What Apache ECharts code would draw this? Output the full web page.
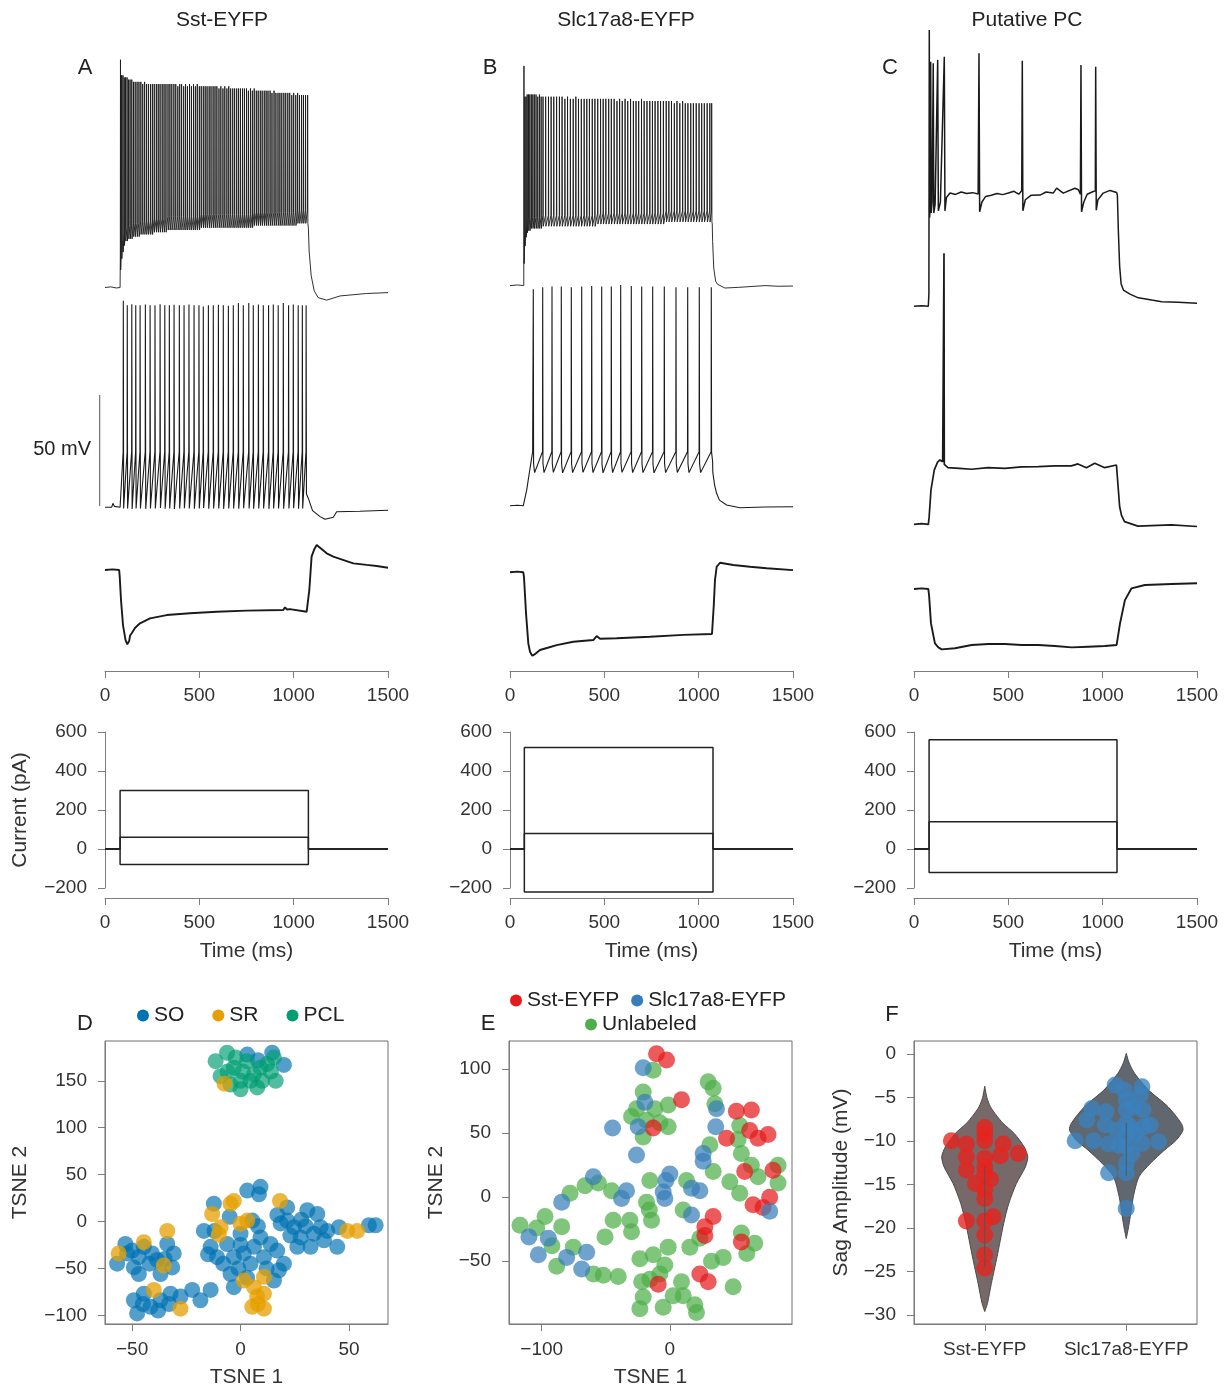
<!DOCTYPE html>
<html><head><meta charset="utf-8">
<script src="https://cdn.jsdelivr.net/npm/echarts@6/dist/echarts.min.js"></script>
<style>html,body{margin:0;padding:0;background:#fff}#c{width:1228px;height:1389px}</style>
</head><body><div id="c"></div>
<script>
// ================= DATA =================
const columnTitles = ['Sst-EYFP', 'Slc17a8-EYFP', 'Putative PC'];
const panelLetters = ['A', 'B', 'C', 'D', 'E', 'F'];
const timeTicks = [0, 500, 1000, 1500];
const tsneDxTicks = [-50, 0, 50];
const tsneDyTicks = [-100, -50, 0, 50, 100, 150];
const tsneExTicks = [-100, 0];
const tsneEyTicks = [-50, 0, 50, 100];
const sagTicks = [-30, -25, -20, -15, -10, -5, 0];
const sagCategories = ['Sst-EYFP', 'Slc17a8-EYFP'];
const legendD = ['SO', 'SR', 'PCL'];
const legendE = ['Sst-EYFP', 'Slc17a8-EYFP', 'Unlabeled'];

// injected current steps (ms, pA)
const stepTimesA = [80, 1078], stepAmpsA = [300, 60, -80];
const stepTimesB = [76, 1076], stepAmpsB = [520, 80, -220];
const stepTimesC = [80, 1076], stepAmpsC = [560, 140, -120];

// voltage traces: [time ms, deflection from rest mV]; spikes: [time, peak, after-hyperpolarisation]
const a1Pre = [[0,0],[30,0.3],[60,-0.2],[80,0]];
const a1Spikes = [[82,103,8],[88,96,13],[95,96,16],[102,95,19],[109,95,21],[117,95,21],[125,94,22],[133,94,22],[142,94,22],[151,93,23],[160,93,23],[170,93,23],[180,93,23],[190,93,24],[200,92,24],[210,93,24],[220,92,24],[230,92,24],[241,92,24],[251,92,24],[261,92,25],[272,92,25],[282,92,25],[292,92,25],[303,92,25],[313,92,25],[323,92,25],[334,92,26],[344,92,26],[354,92,26],[365,92,26],[375,92,26],[386,91,26],[396,92,26],[406,92,26],[417,91,26],[427,92,26],[437,91,26],[448,92,26],[458,91,26],[469,92,26],[479,91,26],[489,92,26],[500,91,26],[510,91,27],[521,91,27],[531,91,27],[541,91,27],[552,91,27],[562,91,27],[573,91,27],[583,91,27],[593,91,27],[604,90,27],[614,91,27],[625,90,27],[635,91,27],[646,90,27],[656,91,27],[666,90,27],[677,90,27],[687,90,27],[698,90,27],[708,90,27],[718,90,27],[729,90,27],[739,90,27],[750,90,27],[760,89,27],[771,90,27],[781,89,27],[791,90,28],[802,89,28],[812,89,28],[823,89,28],[833,89,28],[844,89,28],[854,89,28],[864,89,28],[875,89,28],[885,88,28],[896,89,28],[906,88,28],[917,88,28],[927,88,28],[937,88,28],[948,88,28],[958,88,28],[969,88,28],[979,88,28],[990,87,28],[1000,88,28],[1011,87,28],[1021,88,29],[1031,87,29],[1042,87,29],[1052,87,29],[1063,87,29],[1074,87,29]];
const a1Post = [[1078,27],[1082,16.5],[1093,5.3],[1109,-1.5],[1130,-4.6],[1175,-5.7],[1246,-3.8],[1387,-2.7],[1500,-2.3]];

const a2Pre = [[0,0],[35,0],[42,1.8],[50,0.4],[80,0]];
const a2Spikes = [[97,93,-0.5],[118,91,-0.5],[142,91.5,-0.8],[163,91,-0.5],[186,91,-0.5],[214,91.3,-0.7],[239,91,-0.5],[265,91,-0.5],[292,91.5,-0.3],[317,91,-0.6],[341,91,-0.5],[366,91.2,-0.8],[394,91,-0.5],[419,91,-0.4],[445,91.4,-0.5],[472,91,-0.6],[498,91,-0.5],[521,90.5,-0.3],[548,91,-0.6],[574,91,-0.5],[601,91.2,-0.5],[627,91,-0.7],[654,90.8,-0.5],[680,91,-0.5],[707,92,-0.6],[733,91,-0.4],[762,92,-0.5],[786,91,-0.6],[813,91.3,-0.5],[839,91,-0.5],[867,91,-0.7],[892,91.4,-0.5],[918,91,-0.5],[945,92,-0.6],[973,91,-0.5],[998,91.3,-0.4],[1024,91,-0.6],[1046,91,-0.5],[1066,91,6]];
const a2Post = [[1078,4],[1090,1],[1100,-1.5],[1140,-4.2],[1166,-5.4],[1210,-4.5],[1228,-2],[1350,-1.8],[1500,-1.3]];

const a3Trace = [[0,0],[40,0.3],[75,0],[78,-3],[84.8,-13.5],[95.4,-24.8],[108.7,-31.5],[118,-33.5],[123.5,-33.8],[128,-32],[133,-29.5],[141.5,-28.5],[160,-26],[185.5,-24],[238.5,-21.8],[327,-20.3],[450,-19.5],[592,-18.8],[751,-18.3],[945,-18],[954,-16.8],[965,-17.8],[980,-17.6],[1069,-18.8],[1077,-18.5],[1083,-9],[1095,6],[1110,9.5],[1122,11.3],[1130,10.5],[1175,7.5],[1210,6],[1316,3],[1387,2.3],[1440,1.8],[1500,1]];

const b1Pre = [[0,0],[40,0.3],[73,0]];
const b1Spikes = [[74,100,10],[79,86,18],[85,86,22],[91,87,24],[98,87,25],[105,87,25],[113,87,26],[121,87,26],[129,87,26],[138,87,26],[147,86,26],[156,87,26],[165,86,26],[175,86,27],[189,86,27],[204,86,27],[218,86,27],[232,86,27],[247,86,27],[262,86,27],[276,86,27],[291,85,27],[305,86,27],[320,85,27],[335,85,27],[349,86,27],[363,85,27],[378,85,27],[393,85,27],[407,85,27],[421,85,27],[436,85,27],[450,85,27],[465,85,28],[480,85,28],[494,85,28],[508,85,28],[523,85,28],[537,85,28],[552,85,28],[567,84,28],[581,85,28],[595,84,28],[610,85,28],[624,84,28],[639,85,28],[654,84,28],[668,84,28],[682,84,28],[697,85,28],[711,84,28],[726,84,28],[741,84,28],[755,84,28],[769,84,28],[784,84,28],[798,84,28],[813,84,28],[828,84,29],[842,84,29],[856,84,29],[871,83,29],[885,84,29],[900,83,29],[915,84,29],[929,83,29],[943,83,29],[958,83,29],[972,83,29],[987,83,29],[1002,83,29],[1016,83,29],[1030,83,29],[1045,83,29],[1059,83,29],[1069,83,29]];
const b1Post = [[1072,28],[1074,20],[1080,8],[1090,2],[1100,0.6],[1139,-1.1],[1210,-0.8],[1352,0],[1420,-0.3],[1500,-0.2]];

const b2Pre = [[0,0],[40,0.2],[70.5,0],[78,3],[88.5,7],[102,14.6],[112,20],[120,24.3]];
const b2Spikes = [[123.5,97.5,14.9],[173.3,98.4,14.9],[222.6,98.7,15],[271.9,98.7,14.8],[324.9,98.4,14.9],[380,98.7,15],[433,99,14.9],[486,98.7,14.8],[536.9,98.7,14.9],[586.7,99.4,15],[642.9,99,14.9],[698,98.7,14.9],[756.3,98.7,14.8],[817.8,98.7,14.9],[879.8,98.4,15],[941.8,98.4,14.9],[1003.3,98.4,14.9],[1066.9,98.4,20]];
const b2Post = [[1075,15],[1085,9],[1095,5.6],[1110,2.5],[1148,0.3],[1219,-0.9],[1350,-0.6],[1500,-0.5]];

const b3Trace = [[0,0],[40,0.3],[70.5,0],[74,-2],[85,-18.5],[97,-32],[106,-35.8],[118,-37.6],[130,-37],[159,-35],[200,-34],[247.5,-32.8],[335.5,-31.3],[441.5,-30.5],[459.5,-28.7],[477,-29.9],[565.5,-29.7],[742,-29],[918.5,-28.2],[1070.6,-27.8],[1074,-27],[1080,-15],[1086.5,-3.5],[1095.5,2.5],[1113,4.3],[1183.5,3.3],[1272,2.5],[1360.5,1.8],[1500,1]];

const c1Trace = [[0,0],[40,0.3],[76,0],[79,6],[81,124.5],[83,40],[85,45],[88.5,110.2],[91,42],[96,47],[102,109.5],[105,42],[112,46],[125.6,111],[129,43],[140,47],[150,46.5],[160.6,112.4],[164,43],[172,49],[191,51],[220,50.4],[250,51.5],[279,50.8],[310,51.2],[340,50.6],[344.5,114],[348,42.6],[360,47],[380,49.5],[410,50],[440,50.8],[470,50.3],[500,51],[530,51.8],[555,50.5],[571,52],[574,110.6],[577,43],[590,48],[620,50],[668,50.1],[700,51.5],[738,51],[756,53.2],[791,51],[853,53.2],[871,52.5],[882,50.5],[885,108.7],[888,42.6],[900,47],[918,50.5],[950,51.7],[961,52],[963,107.9],[966,43.3],[975,48],[1003,51],[1039,52.2],[1074,51.3],[1078,50],[1083,34.4],[1090,18],[1098,10],[1110,7.3],[1145,5.5],[1189,3.8],[1260,2.8],[1313,2.1],[1400,1.8],[1500,1.4]];
const c2Trace = [[0,0],[40,0.3],[76,0],[80,3],[90,15.5],[107.6,24.5],[125,28],[137.8,29],[143,29.7],[152,28.2],[157.5,27.5],[159,122.1],[160.5,27],[162.7,26.7],[180,25.5],[240,25.2],[304,24.8],[394,25.5],[482,25.2],[571,25.9],[659,26],[747,26.3],[834,26.3],[869,27.2],[914,25.5],[958,27.5],[1011,25.5],[1073,26.7],[1078,26],[1090,7.9],[1100,4],[1116,1.2],[1187,-0.8],[1364,-0.3],[1500,-1]];
const c3Trace = [[0,0],[40,0.3],[76,0],[80,-3],[90,-15.5],[111,-24.5],[129,-26.3],[147,-27.2],[217,-26.7],[306,-25.2],[394,-24.8],[482,-24.8],[571,-25.2],[659,-25.2],[747,-25.7],[836,-26.3],[924,-26],[1012,-25.7],[1074,-25.2],[1078,-24.5],[1092,-15.5],[1118,-5],[1153,0.3],[1224,1.8],[1365,2.25],[1500,2.6]];

// 50 mV scale bar (ms, mV)
const scaleBar = [[-28,0.6],[-28,50.6]];
const scaleBarLabel = '50 mV';

// D: TSNE by layer
const tsneSO = [[3.1,178],[14.6,180],[20,167],[8,172],[-56.9,-45],[-53.1,-24],[-52.3,-34],[-49.2,-49],[-46.9,-56],[-50,-31],[-44.6,-27],[-40.8,-34],[-38.5,-41],[-33.8,-24],[-30.8,-34],[-31.5,-49],[-36.9,-56],[-35,-40],[-42,-45],[-47,-38],[-49.2,-84],[-47.7,-98],[-44.6,-77],[-41.5,-91],[-36.9,-84],[-38,-95],[-32.3,-77],[-27.7,-80],[-22.3,-73],[-18.5,-84],[-13.8,-73],[-33,-88],[-45,-88],[-12.3,19],[-16.9,-10],[-13.8,-27],[-10.8,-38],[-6.2,-24],[-3.1,-38],[0,-13],[1.5,-34],[4.6,-45],[6.2,-27],[9.2,-17],[10.8,-38],[13.8,-24],[16.9,-31],[20,-45],[17.7,-52],[15.4,-63],[3.1,33],[9.2,37],[8.5,29],[5.4,1],[-4.6,-56],[-3.1,-70],[-8,-45],[-1,-50],[3,-60],[-12,-10],[-5,5],[8,-5],[12,-50],[-15,-35],[0,-25],[21.5,15],[21.5,1],[18.5,-2],[24.6,-6],[30.8,12],[35.4,8],[36.9,-6],[27.7,-17],[32.3,-27],[38.5,-20],[44.6,-27],[45.4,-6],[26.2,-27],[33.8,-13],[28,2],[40,-10],[23,-15],[17,7],[30,-5],[59.2,-4],[62.3,-4]];
const tsneSR = [[-7.4,147],[-13.1,8],[-9.2,-6],[-4.6,19],[0,-2.5],[3.1,1],[18.2,22],[49.2,-10],[53.8,-10],[-33.8,-10],[-44.6,-22],[-56.2,-34],[-35.4,-47],[-40,-73],[-27.7,-93],[1.5,-63],[6.2,-70],[10.8,-59],[7.7,-80],[5.4,-91],[10.8,-93],[10.8,-77],[-3.1,22],[-10,-14],[8,-88]];
const tsnePCL = [[-11.5,171],[-6.2,180],[-9.2,155],[-3.1,164],[0,150],[3,171],[6.2,157],[7.7,143],[0,141],[12.3,168],[15.4,175],[16.2,150],[9.2,164],[-4.6,146],[4.6,150],[-2.3,175],[1,160],[-6,160],[10,150],[14,160]];

// E: TSNE by label
const tsneSst = [[-10.4,112],[-2.6,107],[9.1,76],[-13,54],[51.9,67],[63.6,68],[62.3,52],[68.8,46],[76.6,49],[44.2,46],[58.4,20],[80.5,21],[77.9,0],[64.9,-6],[72.7,-8],[33.8,-15],[27.3,-23],[27.3,-30],[55.8,-35],[23.4,-60],[29.9,-66],[-9.1,-68]];
const tsneSlc = [[-20.8,101],[-19.5,74],[-44.7,54],[-24.7,55],[-26,33],[36.4,69],[35.8,55],[26,34],[26,28],[-59.7,16],[-33.8,5],[-37.7,-1],[0,18],[-3.1,13],[-5.2,4],[-3.9,-1],[16.9,7],[23.4,5],[16.9,-14],[77.9,-11],[-84.4,-4],[-110,-31],[-102.6,-45],[-94.8,-32],[-80.5,-47],[-64.9,-43],[-68.8,-56]];
const tsneUnl = [[-116.9,-22],[-97.4,-15],[-103.9,-24],[-84.4,-23],[-77.9,3],[-66.2,9],[-55.8,11],[-45.5,5],[-88.3,-54],[-75.3,-39],[-50.6,-31],[-59.7,-60],[-51.9,-61],[-40.3,-62],[-44.2,-18],[-31.2,-18],[-29.9,-27],[-18.2,-4],[-14.3,-18],[-15.6,13],[-20.8,47],[-29.9,63],[-20.8,82],[-26,69],[-13,99],[-11.7,69],[-1.3,72],[-1.3,55],[-7.8,58],[-18.2,60],[29.9,90],[33.8,85],[35.1,73],[31.2,41],[33.8,20],[13,13],[10.4,-10],[23.4,-32],[15.6,-39],[32.5,-50],[41.6,-47],[-23.4,-48],[-13,-45],[-1.3,-39],[-3.9,-53],[-7.8,-60],[-22,-66],[-20.8,-78],[-23.4,-87],[-15.6,-64],[-5.2,-86],[2.6,-77],[9.1,-66],[10.4,-77],[19.5,-84],[20.8,-90],[49.4,-70],[55.8,34],[63.6,25],[84.4,25],[84.4,11],[46.8,12],[54.5,3],[68.8,16],[55.8,-28],[66.2,-36],[60,-44],[54.5,56],[53.2,45],[-92,-38],[-16,-10]];

// F: sag amplitude (position, mV) and violin outline (mV, half width)
const sagSst = [[0.764,-9.96],[0.87,-10.34],[1,-8.43],[1,-9.2],[1,-9.96],[1.13,-10.34],[1.236,-11.42],[0.87,-11.8],[1,-11.99],[1.111,-11.69],[0.87,-13.33],[1,-12.95],[1,-13.7],[0.934,-14.87],[1.04,-14.4],[1,-15.6],[1,-16.6],[0.87,-19.2],[1,-19.2],[1.059,-18.7],[1,-20.8],[1,-23.1],[1,-24.6]];
const sagSlc = [[1.639,-9.96],[1.757,-6.25],[1.722,-7.59],[1.858,-6.63],[1.769,-9.96],[1.851,-8.16],[1.875,-10.34],[1.875,-13.64],[1.922,-3.56],[1.986,-4.14],[2,-5.29],[2,-6.44],[2,-7.97],[2,-9.5],[2,-10.65],[2,-12.57],[2,-13.64],[2,-17.74],[1.934,-8.74],[2.028,-8.35],[2.064,-9.12],[2.111,-3.75],[2.111,-10.27],[2.123,-8.35],[2.118,-6.44],[2.17,-8.16],[2.229,-10.08],[2.099,-4.71],[2.052,-6.05],[1.95,-10.5],[2.04,-11.5]];
const violinSst = [[-3.7,0],[-5,0.015],[-6.05,0.04],[-7,0.08],[-7.97,0.13],[-9.12,0.208],[-10.65,0.278],[-11.8,0.304],[-12.95,0.288],[-14.87,0.224],[-17.16,0.17],[-19.46,0.134],[-23.3,0.087],[-26.36,0.047],[-28.66,0.019],[-29.6,0]];
const violinSlc = [[0.08,0],[-1,0.02],[-2.22,0.059],[-4.14,0.158],[-6.05,0.295],[-7.97,0.389],[-8.74,0.401],[-9.89,0.354],[-11.03,0.271],[-12.57,0.17],[-14.1,0.09],[-16.4,0.05],[-18.7,0.028],[-20,0.015],[-21.2,0]];
const innerSst = [[1,-12.9],[1,-24.5]];
const innerSlc = [[2,-7.9],[2,-14]];

// ================= STYLE / LAYOUT =================
const FONT = '"Liberation Sans", Arial, Helvetica, sans-serif';
const AXIS_COLOR = '#7d7d7d';
const LABEL_COLOR = '#333';
const TRACE_COLOR = '#1a1a1a';
const colX0 = [105, 510, 914];
const PLOT_W = 283;
const PX_PER_MS = PLOT_W / 1500;
const PX_PER_MV = 2.22;
const traceBase = [[286.7, 507.3, 570], [283.3, 505.7, 572.3], [306.3, 524.3, 589]];
const spikeShapeDense1 = { rise: 6, up: 0.8, down: [[1.2, 0]] };
const spikeShapeDense2 = { rise: 5, up: 0.8, down: [[1.2, 0]] };
const spikeShapeA2 = { thr: 25, up: 0.8, down: [[1.8, 0]] };
const spikeShapeB2 = { thr: 24.3, up: 1, down: [[1.5, 4], [7, 0]] };

function buildSpikeTrace(pre, spikes, post, shape) {
  const pts = pre.map(p => p.slice());
  spikes.forEach(([t, pk, ahp]) => {
    const start = shape.thr != null ? shape.thr : ahp + shape.rise;
    pts.push([t - shape.up, start]);
    pts.push([t, pk]);
    shape.down.forEach(([dt, dv]) => pts.push([t + dt, ahp + dv]));
  });
  return pts.concat(post);
}
const traces = [
  [buildSpikeTrace(a1Pre, a1Spikes, a1Post, spikeShapeDense1), buildSpikeTrace(a2Pre, a2Spikes, a2Post, spikeShapeA2), a3Trace],
  [buildSpikeTrace(b1Pre, b1Spikes, b1Post, spikeShapeDense2), buildSpikeTrace(b2Pre, b2Spikes, b2Post, spikeShapeB2), b3Trace],
  [c1Trace, c2Trace, c3Trace]
];
const traceWidths = [[0.9, 1.1, 1.9], [0.9, 1.1, 1.9], [1.5, 1.7, 1.9]];
const steps = [[stepTimesA, stepAmpsA], [stepTimesB, stepAmpsB], [stepTimesC, stepAmpsC]];

const minus = v => (v < 0 ? '\u2212' + Math.abs(v) : String(v));
const plain = v => String(v);
const tickLabel = (extra) => Object.assign({ color: LABEL_COLOR, fontSize: 19, fontFamily: FONT }, extra || {});
const axisLine = { show: true, onZero: false, lineStyle: { color: AXIS_COLOR, width: 1 } };
const axisTick = (extra) => Object.assign({ show: true, length: 7, lineStyle: { color: AXIS_COLOR, width: 1 } }, extra || {});
const nameStyle = { color: LABEL_COLOR, fontSize: 21, fontFamily: FONT };

const grid = [], xAxis = [], yAxis = [], series = [];
function addGrid(g, xa, ya) {
  const i = grid.length;
  grid.push(Object.assign({ containLabel: false }, g));
  xa.gridIndex = i; ya.gridIndex = i;
  xAxis.push(xa); yAxis.push(ya);
  return i;
}
const hiddenAxis = (min, max) => ({ type: 'value', min, max, show: false, axisLine: { onZero: false }, splitLine: { show: false } });

for (let c = 0; c < 3; c++) {
  const x0 = colX0[c];
  // voltage time axis
  addGrid({ left: x0, top: 100, width: PLOT_W, height: 571 },
    { type: 'value', min: 0, max: 1500, interval: 500, axisLine, axisTick: axisTick(), splitLine: { show: false },
      axisLabel: tickLabel({ margin: 15, formatter: plain }) },
    { type: 'value', show: false, splitLine: { show: false } });
  // voltage traces
  for (let r = 0; r < 3; r++) {
    const gi = addGrid({ left: x0 - 50 * PX_PER_MS, top: traceBase[c][r] - 130 * PX_PER_MV, width: 1550 * PX_PER_MS, height: 230 * PX_PER_MV },
      hiddenAxis(-50, 1500), hiddenAxis(-100, 130));
    series.push({ type: 'line', xAxisIndex: gi, yAxisIndex: gi, data: traces[c][r], showSymbol: false, symbol: 'none',
      clip: false, silent: true, lineStyle: { color: TRACE_COLOR, width: traceWidths[c][r] } });
    if (c === 0 && r === 1) {
      series.push({ type: 'line', xAxisIndex: gi, yAxisIndex: gi, data: scaleBar, symbol: 'none', clip: false, silent: true,
        lineStyle: { color: '#555', width: 1 } });
    }
  }
  // current panel
  const gi = addGrid({ left: x0, top: 732, width: PLOT_W, height: 156 },
    { type: 'value', min: 0, max: 1500, interval: 500, offset: 10, axisLine, axisTick: axisTick(), splitLine: { show: false },
      axisLabel: tickLabel({ margin: 15, formatter: plain }), name: 'Time (ms)', nameLocation: 'middle', nameGap: 43, nameTextStyle: nameStyle },
    Object.assign({ type: 'value', min: -200, max: 600, interval: 200, axisLine, axisTick: axisTick(), splitLine: { show: false },
      axisLabel: tickLabel({ margin: 18, formatter: minus }) },
      c === 0 ? { name: 'Current (pA)', nameLocation: 'middle', nameGap: 74, nameTextStyle: nameStyle } : {}));
  const [on, off] = steps[c][0];
  steps[c][1].forEach(a => {
    series.push({ type: 'line', xAxisIndex: gi, yAxisIndex: gi, symbol: 'none', silent: true, clip: false,
      data: [[0, 0], [on, 0], [on, a], [off, a], [off, 0], [1500, 0]], lineStyle: { color: '#222', width: 1.5 } });
  });
}

// scatter / violin panels
const boxGrid = (left) => ({ left, top: 1041, width: 283, height: 283, show: true, borderColor: '#6f6f6f', borderWidth: 1, backgroundColor: 'transparent' });
const gD = addGrid(boxGrid(105),
  { type: 'value', min: -62.5, max: 68, axisLine, splitLine: { show: false },
    axisTick: axisTick({ customValues: tsneDxTicks }), axisLabel: tickLabel({ customValues: tsneDxTicks, margin: 16, formatter: minus }),
    name: 'TSNE 1', nameLocation: 'middle', nameGap: 43, nameTextStyle: nameStyle },
  { type: 'value', min: -109.3, max: 192.5, axisLine, splitLine: { show: false },
    axisTick: axisTick({ customValues: tsneDyTicks }), axisLabel: tickLabel({ customValues: tsneDyTicks, margin: 18, formatter: minus }),
    name: 'TSNE 2', nameLocation: 'middle', nameGap: 74, nameTextStyle: nameStyle });
const gE = addGrid(boxGrid(509),
  { type: 'value', min: -125.5, max: 95.3, axisLine, splitLine: { show: false },
    axisTick: axisTick({ customValues: tsneExTicks }), axisLabel: tickLabel({ customValues: tsneExTicks, margin: 16, formatter: minus }),
    name: 'TSNE 1', nameLocation: 'middle', nameGap: 43, nameTextStyle: nameStyle },
  { type: 'value', min: -99, max: 121.9, axisLine, splitLine: { show: false },
    axisTick: axisTick({ customValues: tsneEyTicks }), axisLabel: tickLabel({ customValues: tsneEyTicks, margin: 18, formatter: minus }),
    name: 'TSNE 2', nameLocation: 'middle', nameGap: 62, nameTextStyle: nameStyle });
const gF = addGrid(boxGrid(914),
  { type: 'value', min: 0.5, max: 2.5, axisLine, splitLine: { show: false },
    axisTick: axisTick({ customValues: [1, 2] }), axisLabel: tickLabel({ customValues: [1, 2], margin: 16, formatter: v => sagCategories[Math.round(v) - 1] || '' }) },
  { type: 'value', min: -31.03, max: 1.5, axisLine, splitLine: { show: false },
    axisTick: axisTick({ customValues: sagTicks }), axisLabel: tickLabel({ customValues: sagTicks, margin: 18, formatter: minus }),
    name: 'Sag Amplitude (mV)', nameLocation: 'middle', nameGap: 62, nameTextStyle: nameStyle });

const sc = (name, gi, data, color, size, op) => ({ type: 'scatter', name, xAxisIndex: gi, yAxisIndex: gi, data, symbolSize: size,
  silent: true, itemStyle: { color, opacity: op } });
series.push(sc('SO', gD, tsneSO, '#0072B2', 16, 0.68));
series.push(sc('PCL', gD, tsnePCL, '#009E73', 16, 0.68));
series.push(sc('SR', gD, tsneSR, '#E69F00', 16, 0.75));
series.push(sc('Unlabeled', gE, tsneUnl, '#4DAF4A', 17, 0.72));
series.push(sc('Sst-EYFP', gE, tsneSst, '#E41A1C', 17, 0.72));
series.push(sc('Slc17a8-EYFP', gE, tsneSlc, '#377EB8', 17, 0.72));

function violin(center, outline, fill) {
  return { type: 'custom', xAxisIndex: gF, yAxisIndex: gF, silent: true, data: [[center, outline[0][0]]],
    renderItem: (params, api) => {
      const left = outline.map(([v, hw]) => api.coord([center - hw, v]));
      const right = outline.slice().reverse().map(([v, hw]) => api.coord([center + hw, v]));
      return { type: 'polygon', shape: { points: left.concat(right), smooth: 0.25 },
        style: { fill, stroke: '#4a4a4a', lineWidth: 1 } };
    } };
}
series.push(violin(1, violinSst, '#776969'));
series.push(violin(2, violinSlc, '#61676e'));
series.push({ type: 'line', xAxisIndex: gF, yAxisIndex: gF, data: innerSst, symbol: 'none', silent: true, lineStyle: { color: '#555', width: 1 } });
series.push({ type: 'line', xAxisIndex: gF, yAxisIndex: gF, data: innerSlc, symbol: 'none', silent: true, lineStyle: { color: '#555', width: 1 } });
series.push(sc('Sst-EYFP sag', gF, sagSst, '#E8221C', 17, 0.78));
series.push(sc('Slc17a8-EYFP sag', gF, sagSlc, '#3A82BE', 17, 0.78));

const legendBase = { icon: 'circle', itemWidth: 12, itemHeight: 12, selectedMode: false, padding: 0,
  itemStyle: { opacity: 1 }, textStyle: { fontSize: 21, color: '#222', fontFamily: FONT } };
const legend = [
  Object.assign({}, legendBase, { data: legendD, left: 137, top: 1005, itemGap: 28 }),
  Object.assign({}, legendBase, { data: legendE.slice(0, 2), left: 510, top: 990, itemGap: 12 }),
  Object.assign({}, legendBase, { data: legendE.slice(2), left: 585, top: 1014 })
];

const txt = (text, x, y, size, align) => ({ type: 'text', x, y, silent: true,
  style: { text, fontSize: size, fontFamily: FONT, fill: '#222', align: align || 'center', verticalAlign: 'middle' } });
const letterPos = [[85, 68], [490, 68], [890, 68], [85, 1024], [488, 1024], [892, 1015]];
const titlePos = [[222, 20], [626, 20], [1027, 20]];
const graphic = [];
columnTitles.forEach((t, i) => graphic.push(txt(t, titlePos[i][0], titlePos[i][1], 21)));
panelLetters.forEach((t, i) => graphic.push(txt(t, letterPos[i][0], letterPos[i][1], 22)));
graphic.push(txt(scaleBarLabel, 91, 449, 20, 'right'));

const chart = echarts.init(document.getElementById('c'), null, { renderer: 'canvas' });
chart.setOption({ animation: false, backgroundColor: '#fff', grid, xAxis, yAxis, series, legend, graphic, tooltip: { show: false } });
</script></body></html>
